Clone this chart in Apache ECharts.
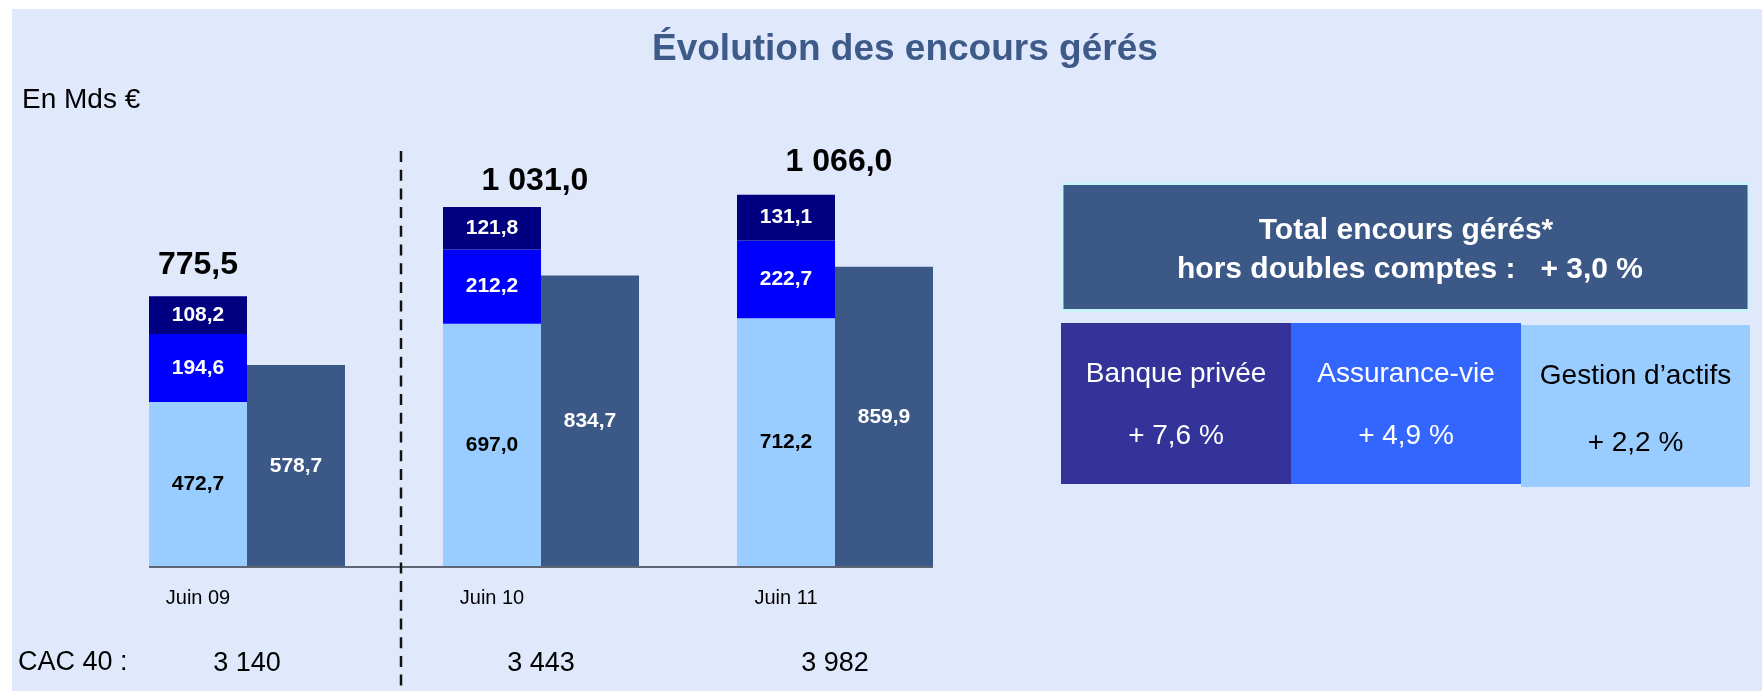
<!DOCTYPE html>
<html>
<head>
<meta charset="utf-8">
<script src="https://cdn.jsdelivr.net/npm/echarts@6/dist/echarts.min.js"></script>
<style>
	html, body { margin: 0; padding: 0; background: #fff; }
	#bg { position: absolute; left: 12px; top: 9px; right: 0; bottom: 0; background: #e0e8fb; }
	#chart { position: absolute; left: 0; top: 0; width: 1762px; height: 691px; }
</style>
</head>
<body>
<div id="bg"></div>
<div id="chart"></div>
<script>
const categories = ['Juin 09', 'Juin 10', 'Juin 11']
const gestionActifs = [472.7, 697.0, 712.2]
const assuranceVie = [194.6, 212.2, 222.7]
const banquePrivee = [108.2, 121.8, 131.1]
const totals = [775.5, 1031.0, 1066.0]
const horsDoublesComptes = [578.7, 834.7, 859.9]
const cac40 = [3140, 3443, 3982]
const segmentNames = ['Banque privée', 'Assurance-vie', 'Gestion d’actifs']
const segmentGrowth = [7.6, 4.9, 2.2]
const totalGrowth = 3.0

const FONT = '"Liberation Sans", Arial, sans-serif'
// where the total labels sit above each stack (style only)
const totalGap = [15, 10, 17]
const totalShift = [0, 43, 53]

// format a number the French way: 1 031,0
const fr = (v, d) => {
	const [i, f] = v.toFixed(d).split('.')
	const ii = i.replace(/\B(?=(\d{3})+(?!\d))/g, ' ')
	return f ? ii + ',' + f : ii
}

const barLabel = (color) => ({
	show: true,
	position: 'inside',
	color: color,
	fontFamily: FONT,
	fontWeight: 'bold',
	fontSize: 21,
	formatter: (p) => fr(p.value, 1)
})

const chart = echarts.init(document.getElementById('chart'))

chart.setOption({
	animation: false,
	title: [{
		text: 'Évolution des encours gérés',
		left: 652,
		top: 31,
		padding: 0,
		textStyle: { color: '#3d5a89', fontFamily: FONT, fontWeight: 'bold', fontSize: 37 }
	}, {
		text: 'En Mds €',
		left: 22,
		top: 86,
		padding: 0,
		textStyle: { color: '#000', fontFamily: FONT, fontWeight: 'normal', fontSize: 28 }
	}],
	grid: { left: 100, right: 780, top: 148, bottom: 124 },
	xAxis: [{
		type: 'category',
		data: categories,
		axisLine: { show: false },
		axisTick: { show: false },
		axisLabel: {
			margin: 21,
			color: '#000',
			fontFamily: FONT,
			fontSize: 20,
			padding: [0, 98, 0, 0]
		}
	}, {
		type: 'category',
		position: 'bottom',
		data: cac40.map((v) => fr(v, 0)),
		axisLine: { show: false },
		axisTick: { show: false },
		axisLabel: { margin: 83, color: '#000', fontFamily: FONT, fontSize: 27 }
	}],
	yAxis: { type: 'value', min: 0, max: 1200, show: false },
	series: [{
		name: 'Gestion d’actifs',
		type: 'bar',
		stack: 'encours',
		data: gestionActifs,
		itemStyle: { color: '#99ccff' },
		label: barLabel('#000')
	}, {
		name: 'Assurance-vie',
		type: 'bar',
		stack: 'encours',
		data: assuranceVie,
		itemStyle: { color: '#0000ff' },
		label: barLabel('#fff')
	}, {
		name: 'Banque privée',
		type: 'bar',
		stack: 'encours',
		data: banquePrivee,
		itemStyle: { color: '#000080' },
		label: barLabel('#fff')
	}, {
		// empty cap on top of the stack, only carries the total label
		name: 'Total',
		type: 'bar',
		stack: 'encours',
		data: totals.map((t, i) => ({ value: 0, label: { distance: totalGap[i], offset: [totalShift[i], 0] } })),
		label: {
			show: true,
			position: 'top',
			color: '#000',
			fontFamily: FONT,
			fontWeight: 'bold',
			fontSize: 32,
			formatter: (p) => fr(totals[p.dataIndex], 1)
		}
	}, {
		name: 'Hors doubles comptes',
		type: 'bar',
		data: horsDoublesComptes,
		itemStyle: { color: '#3c5886' },
		label: barLabel('#fff'),
		barGap: '0%',
		barCategoryGap: '33.333%'
	}]
})

// baseline under the bars, from the first to the last bar edge
const xFirst = chart.convertToPixel({ xAxisIndex: 0 }, 0)
const xLast = chart.convertToPixel({ xAxisIndex: 0 }, categories.length - 1)
const yZero = chart.convertToPixel({ yAxisIndex: 0 }, 0)
const band = (xLast - xFirst) / (categories.length - 1)

const boxes = [
	{ x: 1061, y: 323, w: 230, h: 161, fill: '#333399', text: '#fff' },
	{ x: 1291, y: 323, w: 230, h: 161, fill: '#3366ff', text: '#fff' },
	{ x: 1521, y: 325, w: 229, h: 162, fill: '#99ccff', text: '#000' }
]

const graphic = [{
	type: 'line',
	z: 10,
	shape: { x1: xFirst - band / 3, y1: yZero, x2: xLast + band / 3, y2: yZero },
	style: { stroke: '#5f6673', lineWidth: 2 }
}, {
	type: 'line',
	z: 11,
	shape: { x1: 401, y1: 151, x2: 401, y2: 688 },
	style: { stroke: '#111', lineWidth: 2.5, lineDash: [11, 7.7] }
}, {
	type: 'text',
	style: { text: 'CAC 40 :', x: 18, y: 663, fill: '#000', font: '27px ' + FONT, verticalAlign: 'middle' }
}, {
	type: 'rect',
	shape: { x: 1062.2, y: 183.7, width: 686.6, height: 126.6 },
	style: { fill: '#3c5886', stroke: '#c4f6f8', lineWidth: 2.5 }
}, {
	type: 'text',
	style: {
		text: 'Total encours gérés*', x: 1406, y: 231, fill: '#fff',
		font: 'bold 30px ' + FONT, align: 'center', verticalAlign: 'middle'
	}
}, {
	type: 'text',
	style: {
		text: 'hors doubles comptes :   + ' + fr(totalGrowth, 1) + ' %', x: 1410, y: 270, fill: '#fff',
		font: 'bold 30px ' + FONT, align: 'center', verticalAlign: 'middle'
	}
}]

boxes.forEach((b, i) => {
	graphic.push({
		type: 'rect',
		shape: { x: b.x, y: b.y, width: b.w, height: b.h },
		style: { fill: b.fill }
	}, {
		type: 'text',
		style: {
			text: segmentNames[i], x: b.x + b.w / 2, y: b.y + 51, fill: b.text,
			font: '28px ' + FONT, align: 'center', verticalAlign: 'middle'
		}
	}, {
		type: 'text',
		style: {
			text: '+ ' + fr(segmentGrowth[i], 1) + ' %', x: b.x + b.w / 2, y: b.y + 113 + (i === 2 ? 5 : 0), fill: b.text,
			font: '28px ' + FONT, align: 'center', verticalAlign: 'middle'
		}
	})
})

chart.setOption({ graphic: graphic })
</script>
</body>
</html>
